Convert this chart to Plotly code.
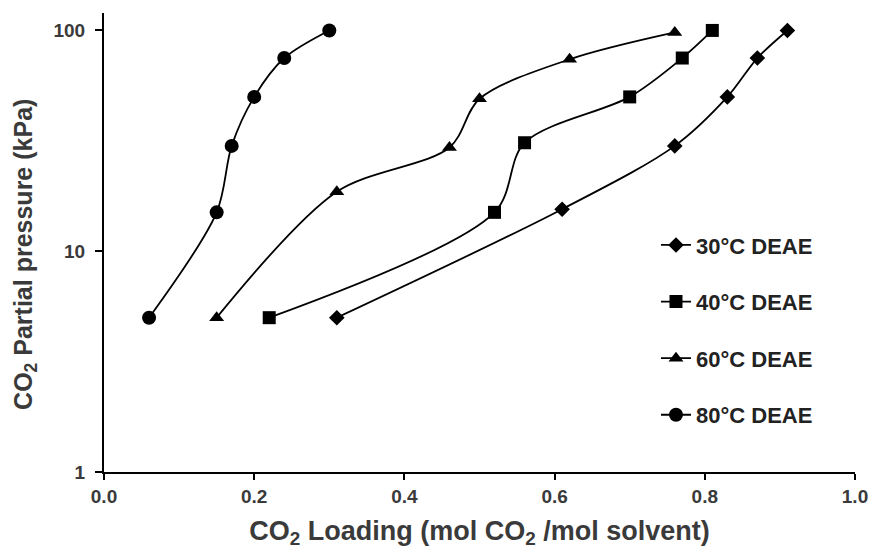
import plotly.graph_objects as go

# CO2 loading (mol CO2 / mol solvent) and partial pressure (kPa) per temperature
load_30 = [0.31, 0.61, 0.76, 0.83, 0.87, 0.91]
pres_30 = [5, 15.5, 30, 50, 75, 100]

load_40 = [0.22, 0.52, 0.56, 0.70, 0.77, 0.81]
pres_40 = [5, 15, 31, 50, 75, 100]

load_60 = [0.15, 0.31, 0.46, 0.50, 0.62, 0.76]
pres_60 = [5, 18.6, 29.5, 49, 74, 98]

load_80 = [0.06, 0.15, 0.17, 0.20, 0.24, 0.30]
pres_80 = [5, 15, 30, 50, 75, 100]

series = [
    ("30°C DEAE", load_30, pres_30, "diamond", 12),
    ("40°C DEAE", load_40, pres_40, "square", 13),
    ("60°C DEAE", load_60, pres_60, "triangle-up", 13),
    ("80°C DEAE", load_80, pres_80, "circle", 14),
]

x_ticks = [0.0, 0.2, 0.4, 0.6, 0.8, 1.0]
x_tick_text = ["0.0", "0.2", "0.4", "0.6", "0.8", "1.0"]
y_ticks = [1, 10, 100]
y_tick_text = ["1", "10", "100"]

FONT = "Liberation Sans, Arial, sans-serif"
TITLE_COLOR = "#3a3a3a"

fig = go.Figure()
for i, (name, x, y, sym, size) in enumerate(series):
    fig.add_trace(go.Scatter(
        x=x, y=y, name=name, mode="lines+markers",
        legendgroup=f"g{i}",
        line=dict(color="#000000", width=1.8, shape="spline", smoothing=0.9),
        marker=dict(symbol=sym, size=size, color="#000000"),
    ))

axis_font = dict(family=FONT, size=19, color=TITLE_COLOR, weight="bold")

fig.update_layout(
    width=880, height=556,
    margin=dict(l=104, r=21, t=13, b=84),
    paper_bgcolor="white", plot_bgcolor="white",
    showlegend=True,
    legend=dict(
        x=0.735, y=0.54, xanchor="left", yanchor="top",
        font=dict(family=FONT, size=22, color="#222222", weight="bold"),
        tracegroupgap=25, bgcolor="rgba(0,0,0,0)",
    ),
    xaxis=dict(
        range=[0, 1.0], tickvals=x_ticks, ticktext=x_tick_text,
        showline=True, linecolor="#000000", linewidth=2, mirror=False,
        ticks="outside", ticklen=6, tickwidth=2, tickcolor="#000000",
        showgrid=False, zeroline=False, tickfont=axis_font,
        title=dict(text="CO<sub>2</sub> Loading (mol CO<sub>2</sub> /mol solvent)",
                   font=dict(family=FONT, size=27, color=TITLE_COLOR, weight="bold"),
                   standoff=15),
    ),
    yaxis=dict(
        type="log", range=[0, 2.079], tickvals=y_ticks, ticktext=y_tick_text,
        showline=True, linecolor="#000000", linewidth=2,
        ticks="outside", ticklen=7, tickwidth=2, tickcolor="#000000",
        ticklabelstandoff=6,
        showgrid=False, zeroline=False, tickfont=axis_font,
    ),
    annotations=[dict(
        text="CO<sub>2</sub> Partial pressure (kPa)",
        xref="paper", yref="paper", x=0, y=0.473,
        xanchor="center", yanchor="middle", xshift=-79,
        textangle=-90, showarrow=False,
        font=dict(family=FONT, size=25, color=TITLE_COLOR, weight="bold"),
    )],
)

fig.write_html("out.html")
